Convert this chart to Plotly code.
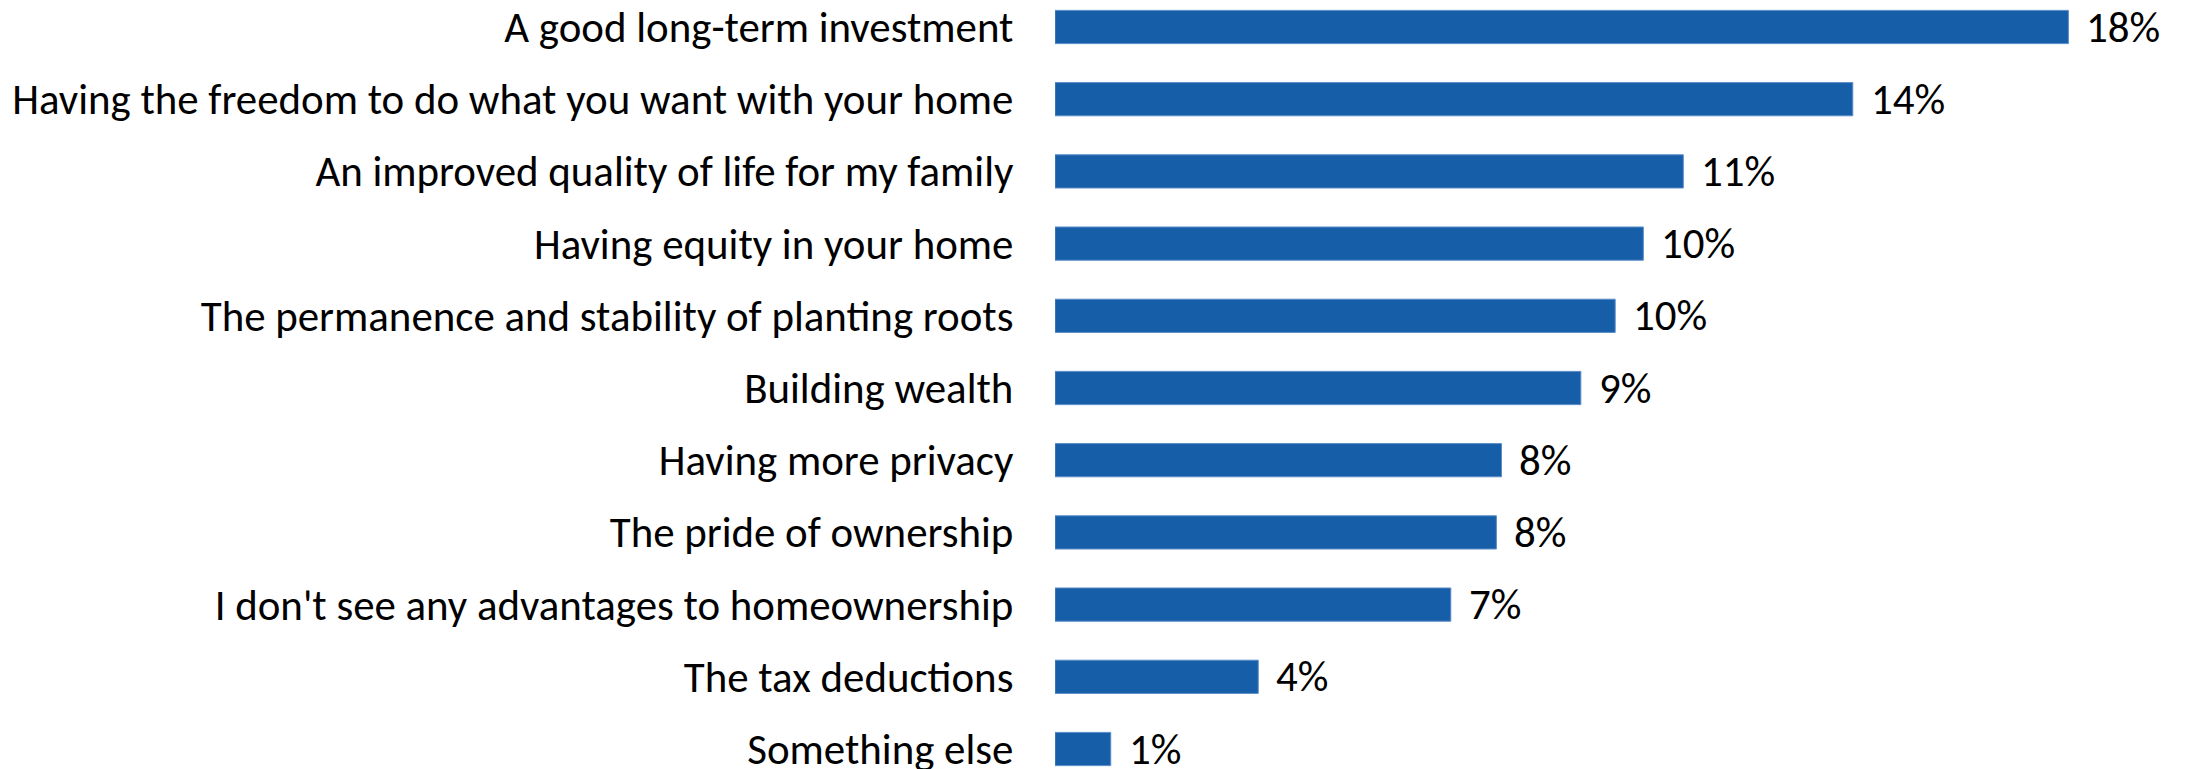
import plotly.graph_objects as go

categories = [
    "A good long-term investment",
    "Having the freedom to do what you want with your home",
    "An improved quality of life for my family",
    "Having equity in your home",
    "The permanence and stability of planting roots",
    "Building wealth",
    "Having more privacy",
    "The pride of ownership",
    "I don't see any advantages to homeownership",
    "The tax deductions",
    "Something else",
]
values = [18.0, 14.17, 11.16, 10.45, 9.95, 9.34, 7.93, 7.84, 7.03, 3.61, 0.99]
value_labels = ["18%", "14%", "11%", "10%", "10%", "9%", "8%", "8%", "7%", "4%", "1%"]

FONT = "Calibri, Carlito, Lato, sans-serif"
SIZE = 42.9
BAR = "#175EA8"

# page body has an 8px default margin; size the figure to fill the rest
OFF = 8
W, H = 2185 - OFF, 769 - OFF

fig = go.Figure()
fig.add_trace(go.Bar(
    y=categories,
    x=values,
    orientation="h",
    marker=dict(color=BAR, line=dict(color="#5A8CC8", width=1)),
    width=0.46,
    hoverinfo="skip",
))

for c, v, t in zip(categories, values, value_labels):
    fig.add_annotation(
        x=v, y=c, text=t, showarrow=False, xanchor="left", yanchor="middle",
        xshift=16, font=dict(family=FONT, size=SIZE, color="#000000"),
    )

pitch = 72.2
top = -(27 - OFF) / pitch
bottom = top + H / pitch
left = 1055 - OFF
plot_w = W - left

fig.update_layout(
    width=W, height=H,
    margin=dict(l=left, r=0, t=0, b=0, pad=0),
    paper_bgcolor="white", plot_bgcolor="white",
    showlegend=False,
    font=dict(family=FONT, size=SIZE, color="#000000"),
    xaxis=dict(range=[0, plot_w / 56.3], visible=False, fixedrange=True, automargin=False),
    yaxis=dict(
        type="category",
        range=[bottom, top],
        automargin=False,
        showgrid=False, zeroline=False, showline=False,
        ticks="outside", ticklen=32, tickcolor="rgba(0,0,0,0)",
        tickfont=dict(family=FONT, size=SIZE, color="#000000"),
        fixedrange=True,
    ),
)

fig.write_html("out.html")
